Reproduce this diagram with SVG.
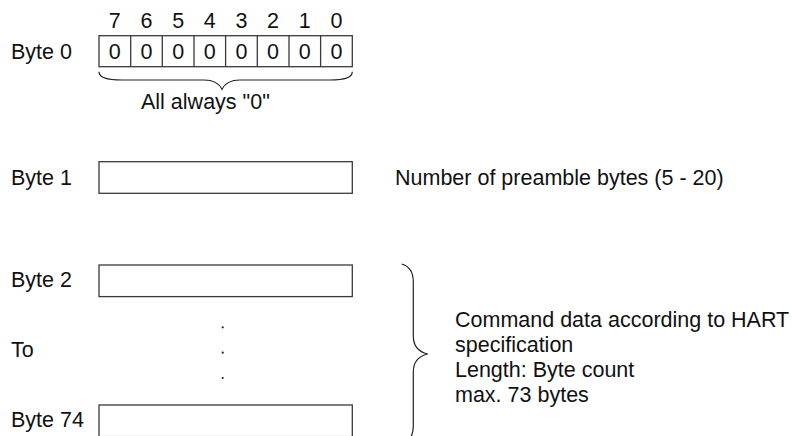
<svg xmlns="http://www.w3.org/2000/svg" width="792" height="436" viewBox="0 0 792 436">
<style>
text{font-family:"Liberation Sans",Arial,sans-serif;font-size:21.5px;fill:#111}
.c{text-anchor:middle}
.box{fill:#fff;stroke:#3a3a3a;stroke-width:1.3}
.br{fill:none;stroke:#222;stroke-width:1.2}
</style>
<rect width="792" height="436" fill="#fff"/>
<g id="bit-numbers">
<text class="c" x="114.8" y="28">7</text>
<text class="c" x="146.5" y="28">6</text>
<text class="c" x="178.2" y="28">5</text>
<text class="c" x="209.8" y="28">4</text>
<text class="c" x="241.5" y="28">3</text>
<text class="c" x="273.1" y="28">2</text>
<text class="c" x="304.8" y="28">1</text>
<text class="c" x="336.5" y="28">0</text>
</g>
<g id="byte0">
<text x="11" y="59">Byte 0</text>
<rect class="box" x="99" y="35.7" width="253.3" height="31"/>
<path class="box" d="M130.7,35.7V66.7M162.3,35.7V66.7M194,35.7V66.7M225.6,35.7V66.7M257.3,35.7V66.7M289,35.7V66.7M320.6,35.7V66.7"/>
<text class="c" x="114.8" y="59">0</text>
<text class="c" x="146.5" y="59">0</text>
<text class="c" x="178.2" y="59">0</text>
<text class="c" x="209.8" y="59">0</text>
<text class="c" x="241.5" y="59">0</text>
<text class="c" x="273.1" y="59">0</text>
<text class="c" x="304.8" y="59">0</text>
<text class="c" x="336.5" y="59">0</text>
<text x="141" y="109">All always "0"</text>
</g>
<g id="byte1">
<text x="11" y="185">Byte 1</text>
<rect class="box" x="99" y="161.7" width="253.3" height="31.6"/>
<text x="395" y="185">Number of preamble bytes (5 - 20)</text>
</g>
<g id="byte2">
<text x="11" y="287">Byte 2</text>
<rect class="box" x="99" y="265" width="253.3" height="31.6"/>
</g>
<g id="to">
<text x="11" y="357">To</text>
<circle cx="222.7" cy="327.3" r="1.1" fill="#222"/>
<circle cx="222.7" cy="352.7" r="1.1" fill="#222"/>
<circle cx="222.7" cy="378" r="1.1" fill="#222"/>
</g>
<g id="byte74">
<text x="11" y="427">Byte 74</text>
<rect class="box" x="99" y="405" width="253.3" height="31.6"/>
</g>
<g id="command-data">
<text x="455" y="327">Command data according to HART</text>
<text x="455" y="352">specification</text>
<text x="455" y="377">Length: Byte count</text>
<text x="455" y="402">max. 73 bytes</text>
</g>
<g id="connectors">
<path class="br" d="M99,71.7C99,77 106,80 122,80L204,80C214,80 219,83 222,89.3C225,83 230,80 240,80L330,80C346,80 352.3,77 352.3,71.7"/>
<path class="br" d="M401.7,264C409,266 413.3,271 413.3,282L413.3,336C413.3,347 419,352 427.7,354C419,356 413.3,361 413.3,372L413.3,426C413.3,437 409,442 401.7,444"/>
</g>
</svg>
